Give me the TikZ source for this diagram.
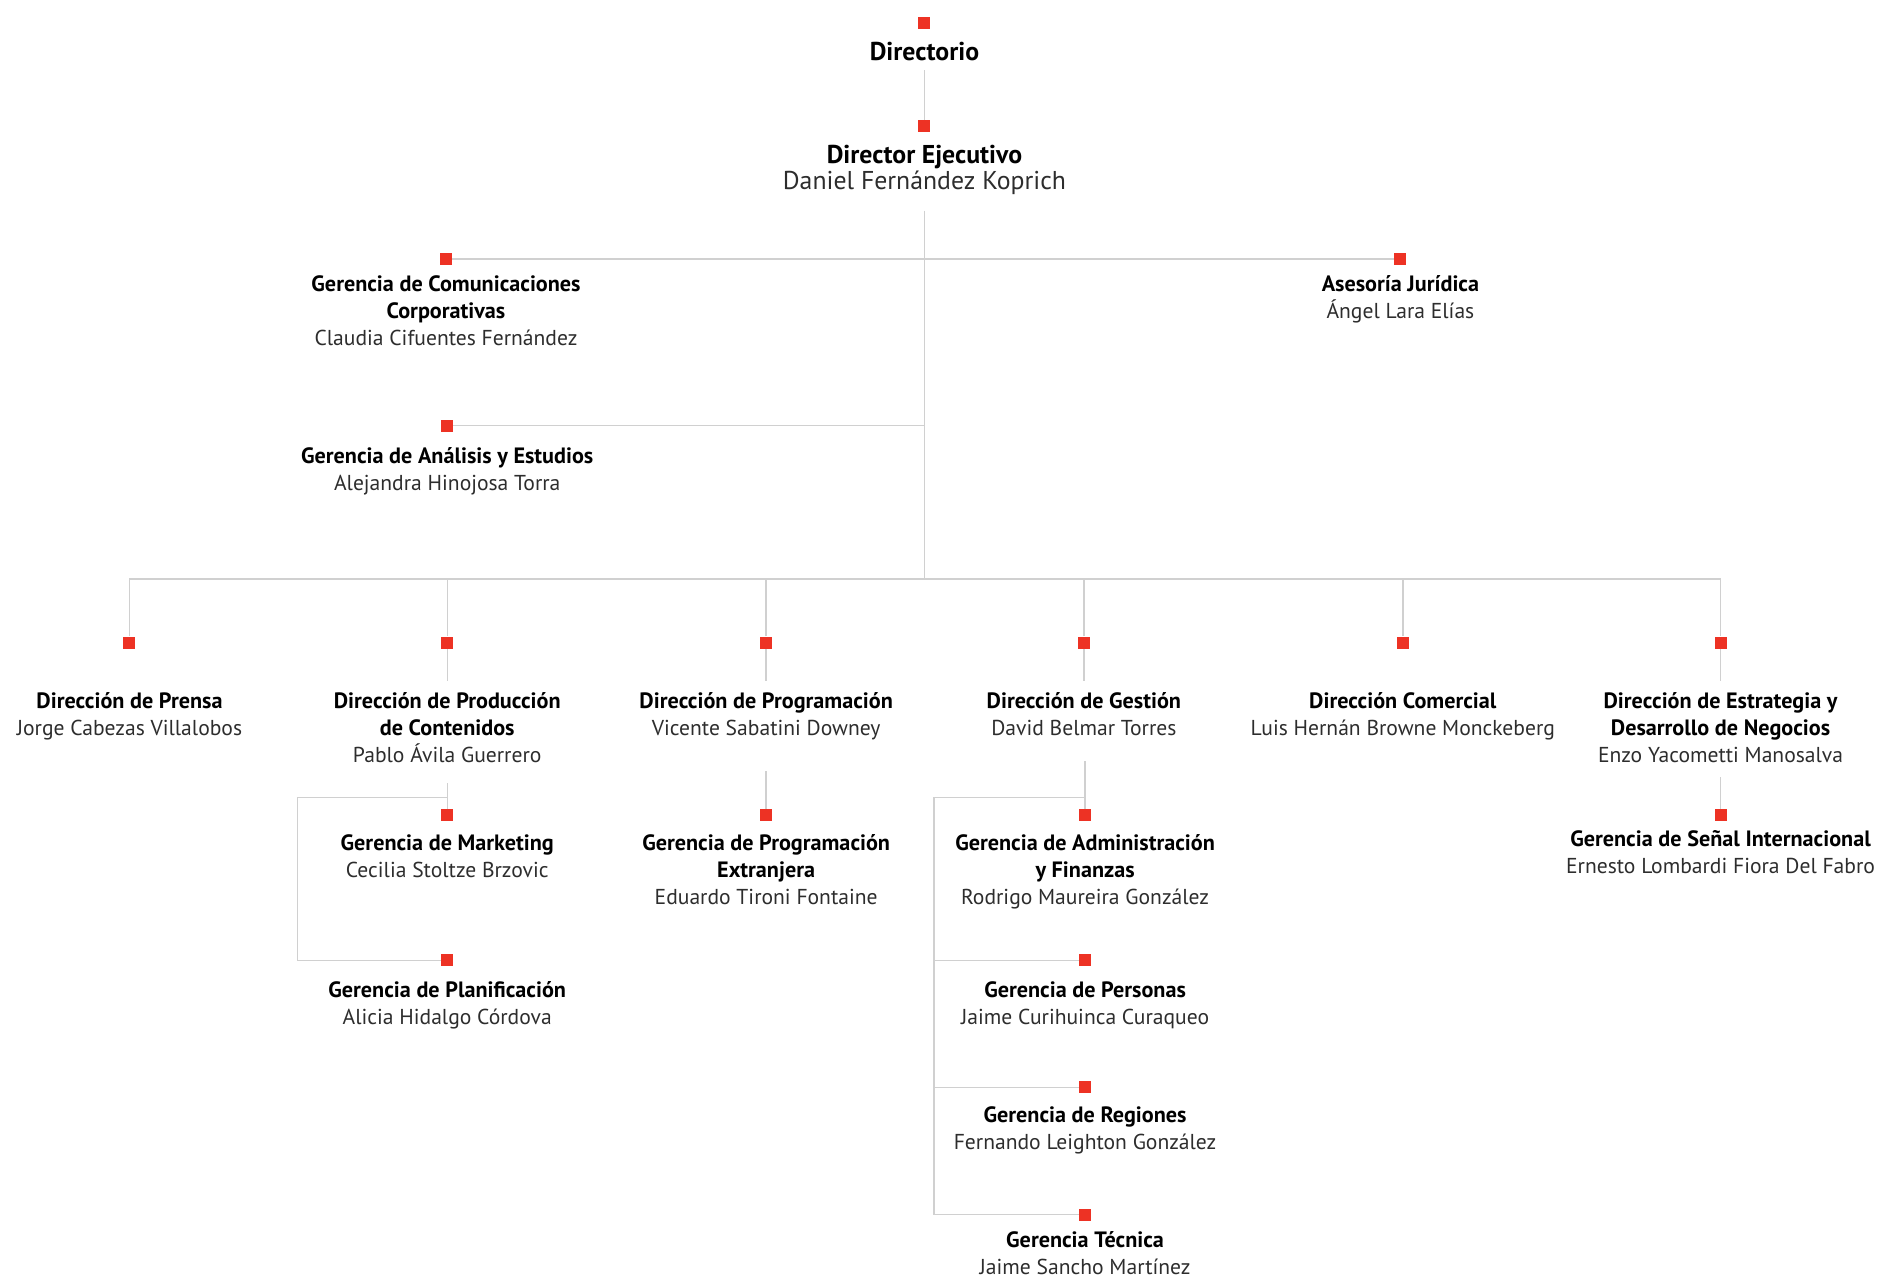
\documentclass[tikz,border=0pt]{standalone}
\usepackage{fontspec}
\setmainfont{PT Sans}
\usetikzlibrary{calc}
\definecolor{rojo}{RGB}{237,50,36}
\definecolor{gris}{RGB}{208,208,208}
\definecolor{tinta}{RGB}{45,45,45}
\tikzset{
 cuadro/.style={fill=rojo, minimum size=10pt, inner sep=0pt},
 cargo/.style={align=center, anchor=north, inner sep=0pt, font=\fontsize{18.5}{22.5}\selectfont\bfseries},
 jefe/.style={cargo, font=\fontsize{21.5}{22}\selectfont\bfseries},
 linea/.style={draw=gris, line width=1.2pt}
}
\newcommand{\puesto}[6]{% nombre, x, y cuadro, y linea base, cargo, persona
\node[cuadro] (#1) at (#2,#3) {};
\node[cargo] (#1-t) at (#2,#4-15) {\rule{0pt}{15pt}#5\\{\mdseries\color{tinta}\fontsize{18}{22.5}\selectfont #6}};
}

\begin{document}
\begin{tikzpicture}[x=1pt,y=-1pt]
\useasboundingbox (0,0) rectangle (1568,1066);

% cabeza
\node[cuadro] (dir) at (771,19) {};
\node[jefe] (dir-t) at (771,50-17) {\rule{0pt}{17pt}Directorio};
\node[cuadro] (dej) at (771,105) {};
\node[jefe] (dej-t) at (771,136-17) {\rule{0pt}{17pt}Director Ejecutivo\\{\mdseries\color{tinta}Daniel Fernández Koprich}};

\puesto{gcom}{372}{216}{243}{Gerencia de Comunicaciones\\Corporativas}{Claudia Cifuentes Fernández}
\puesto{ajur}{1168}{216}{243}{Asesoría Jurídica}{Ángel Lara Elías}
\puesto{gana}{373}{355}{386}{Gerencia de Análisis y Estudios}{Alejandra Hinojosa Torra}

% direcciones
\puesto{dpre}{108}{536}{591}{Dirección de Prensa}{Jorge Cabezas Villalobos}
\puesto{dpro}{373}{536}{591}{Dirección de Producción\\de Contenidos}{Pablo Ávila Guerrero}
\puesto{dprg}{639}{536}{591}{Dirección de Programación}{Vicente Sabatini Downey}
\puesto{dges}{904}{536}{591}{Dirección de Gestión}{David Belmar Torres}
\puesto{dcom}{1170}{536}{591}{Dirección Comercial}{Luis Hernán Browne Monckeberg}
\puesto{dest}{1435}{536}{591}{Dirección de Estrategia y\\Desarrollo de Negocios}{Enzo Yacometti Manosalva}

% gerencias
\puesto{gmkt}{373}{680}{709}{Gerencia de Marketing}{Cecilia Stoltze Brzovic}
\puesto{gpla}{373}{801}{832}{Gerencia de Planificación}{Alicia Hidalgo Córdova}
\puesto{gpex}{639}{680}{709}{Gerencia de Programación\\Extranjera}{Eduardo Tironi Fontaine}
\puesto{gadm}{905}{680}{709}{Gerencia de Administración\\y Finanzas}{Rodrigo Maureira González}
\puesto{gper}{905}{801}{832}{Gerencia de Personas}{Jaime Curihuinca Curaqueo}
\puesto{greg}{905}{907}{936}{Gerencia de Regiones}{Fernando Leighton González}
\puesto{gtec}{905}{1013}{1040}{Gerencia Técnica}{Jaime Sancho Martínez}
\puesto{gsen}{1435}{680}{706}{Gerencia de Señal Internacional}{Ernesto Lombardi Fiora Del Fabro}

\coordinate (bus) at (771,483);
\coordinate (pro-riel) at (248,665);
\coordinate (ges-riel) at (779,665);

% lineas
\draw[linea] ([yshift=-8pt]dir-t.south) -- (dej.north);
\draw[linea] ([yshift=-13pt]dej-t.south) -- (bus);
\draw[linea] (gcom.east) -- (ajur.west);
\draw[linea] (gana.east) -- (gana -| bus);
\draw[linea] (dpre.north) |- (bus) -| (dest.north);
\foreach \d in {dpro,dprg,dges,dcom}
 \draw[linea] (\d.north) -- (\d.north |- bus);
\foreach \d in {dpro,dprg,dges,dest}
 \draw[linea] (\d.south) -- ++(0,27);

\draw[linea] (gmkt.north) -- ++(0,-22);
\draw[linea] (gmkt.north |- pro-riel) -- (pro-riel) |- (gpla.west);
\draw[linea] (gpex.north) -- ++(0,-32);
\draw[linea] (gadm.north) -- ++(0,-40);
\draw[linea] (gadm.north |- ges-riel) -- (ges-riel) |- (gtec.west);
\foreach \g in {gper,greg}
 \draw[linea] (\g.west) -- (\g.west -| ges-riel);
\draw[linea] (gsen.north) -- ++(0,-27);

\end{tikzpicture}
\end{document}
